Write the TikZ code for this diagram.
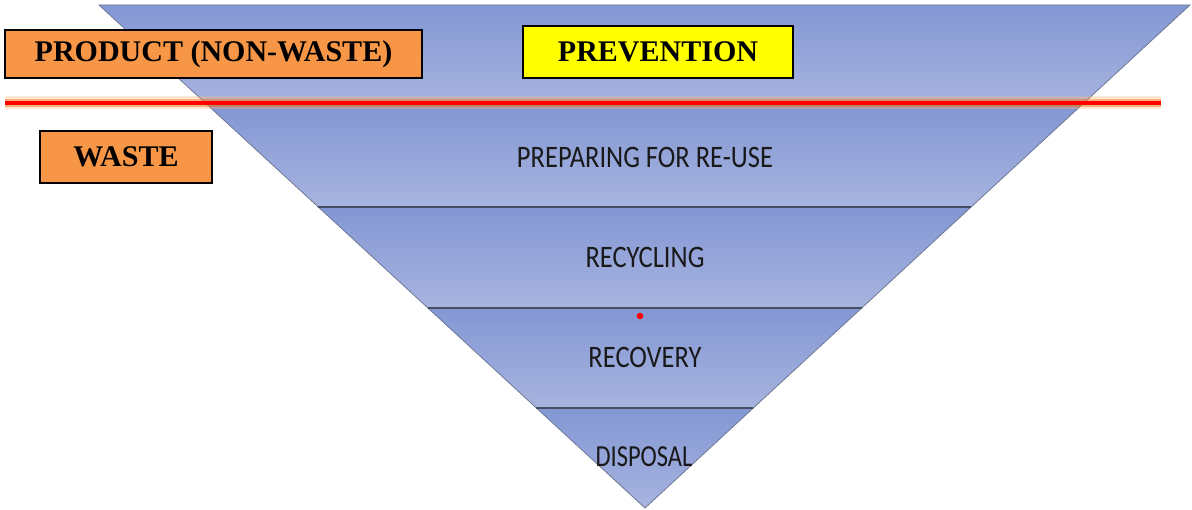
\documentclass[tikz,border=0pt]{standalone}
\usepackage{fontspec}
\newfontfamily\carl{Carlito}
\newfontfamily\tnr{Liberation Serif}
\definecolor{bandtop}{RGB}{131,151,212}
\definecolor{bandbot}{RGB}{168,180,223}
\definecolor{edgegray}{RGB}{110,120,150}
\definecolor{sepline}{RGB}{70,78,100}
\definecolor{boxorange}{RGB}{247,150,70}
\definecolor{boxyellow}{RGB}{255,255,0}
\definecolor{labeltext}{RGB}{25,25,25}
\newcommand{\lvltext}[2][1.18]{\scalebox{1}[#1]{#2}}
\begin{document}
\begin{tikzpicture}[x=1pt,y=-1pt,
  band/.style={top color=bandtop,bottom color=bandbot,draw=edgegray,line width=0.8pt},
  sepstyle/.style={draw=sepline,line width=1.6pt},
  tag/.style={draw=black,line width=1.3pt,inner sep=0pt,font=\tnr\bfseries\fontsize{30}{36}\selectfont,text=black},
  level/.style={font=\carl\fontsize{26.5}{30}\selectfont,text=labeltext,inner sep=0pt}]
\useasboundingbox (0,0) rectangle (1192,510);
% triangle corner coordinates per level
\coordinate (l0) at (99,5);      \coordinate (r0) at (1190,5);
\coordinate (l1) at (208.6,106); \coordinate (r1) at (1080.6,106);
\coordinate (l2) at (318.3,207); \coordinate (r2) at (971.1,207);
\coordinate (l3) at (427.9,308); \coordinate (r3) at (861.7,308);
\coordinate (l4) at (536.4,408); \coordinate (r4) at (753.3,408);
\coordinate (apex) at (645,508);
% bands
\shade[band] (l0) -- (r0) -- (r1) -- (l1) -- cycle;
\shade[band] (l1) -- (r1) -- (r2) -- (l2) -- cycle;
\shade[band] (l2) -- (r2) -- (r3) -- (l3) -- cycle;
\shade[band] (l3) -- (r3) -- (r4) -- (l4) -- cycle;
\shade[band] (l4) -- (r4) -- (apex) -- cycle;
\draw[sepstyle] (l2) -- (r2);
\draw[sepstyle] (l3) -- (r3);
\draw[sepstyle] (l4) -- (r4);
% red dividing line with glow
\coordinate (redL) at (5,103);
\coordinate (redR) at (1161,103);
\draw[orange!60,opacity=0.3,line width=13pt] (redL) -- (redR);
\draw[orange!70!red,opacity=0.4,line width=8pt] (redL) -- (redR);
\draw[red,line width=4pt] (redL) -- (redR);
% red dot
\fill[red] (640,316) circle (3.3pt);
% labels
\node[level] (reuse) at (645,157) {\lvltext{PREPARING FOR RE-USE}};
\node[level] (recyc) at (645,257) {\lvltext{RECYCLING}};
\node[level] (recov) at (645,357) {\lvltext{RECOVERY}};
\node[level,font=\carl\fontsize{24.5}{30}\selectfont] (disp) at (644,457) {\lvltext[1.25]{DISPOSAL}};
% boxes
\node[tag,fill=boxorange,minimum width=417pt,minimum height=48pt] (product) at (213.5,54) {PRODUCT (NON-WASTE)};
\node[tag,fill=boxorange,minimum width=172pt,minimum height=52pt] (waste) at (126,157) {WASTE};
\node[tag,fill=boxyellow,minimum width=270pt,minimum height=52pt] (prevention) at (658,52) {PREVENTION};
\end{tikzpicture}
\end{document}
